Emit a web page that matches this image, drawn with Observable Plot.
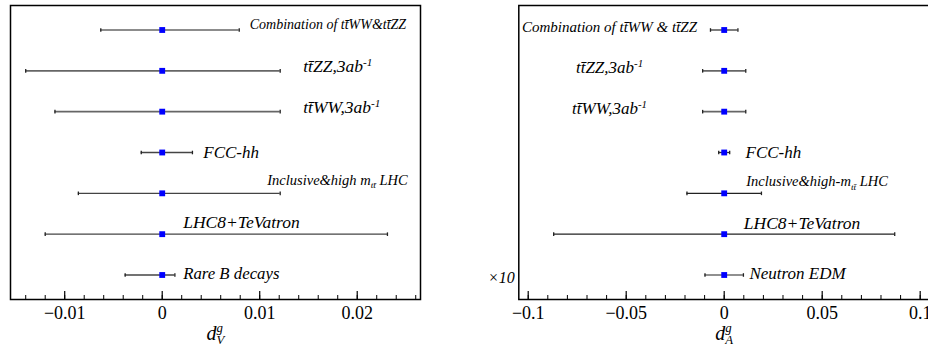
<!DOCTYPE html>
<html><head><meta charset="utf-8">
<script src="https://cdn.jsdelivr.net/npm/d3@7"></script>
<script src="https://cdn.jsdelivr.net/npm/@observablehq/plot@0.6"></script>
<style>
html,body{margin:0;padding:0;background:#fff;overflow:hidden;width:928px;height:351px;}
#wrap{position:relative;width:928px;height:351px;overflow:hidden;}
#left,#right{position:absolute;top:0;}
#left{left:0;width:440px;} #right{left:470px;width:470px;}
#wrap svg{max-width:none !important;}
svg, svg text, svg tspan{font-family:"Liberation Serif","DejaVu Serif",Tinos,Times,serif !important;}
</style></head><body><div id="wrap"><div id="left"></div><div id="right"></div></div>
<script>
// ---------- data ----------
const TB = "t\u0304"; // t with bar
const leftLabels = [
  "Combination of t" + TB + "WW&t" + TB + "ZZ",
  "t" + TB + "ZZ,3ab^{-1}",
  "t" + TB + "WW,3ab^{-1}",
  "FCC-hh",
  "Inclusive&high m_{t" + TB + "} LHC",
  "LHC8+TeVatron",
  "Rare B decays"
];
const leftCentral = [0, 0, 0, 0, 0, 0, 0];
const leftLow  = [-0.0063, -0.0140, -0.0110, -0.00215, -0.0086, -0.0120, -0.0038];
const leftHigh = [ 0.0079,  0.0121,  0.0121,  0.0031,   0.0121,  0.0231,  0.0013];
const leftMajorTicks = [-0.01, 0, 0.01, 0.02];
const leftAxisLabel = "d^{g}_{V}";

const rightLabels = [
  "Combination of t" + TB + "WW & t" + TB + "ZZ",
  "t" + TB + "ZZ,3ab^{-1}",
  "t" + TB + "WW,3ab^{-1}",
  "FCC-hh",
  "Inclusive&high-m_{t" + TB + "} LHC",
  "LHC8+TeVatron",
  "Neutron EDM"
];
const rightCentral = [0, 0, 0, 0, 0, 0, 0];
const rightLow  = [-0.007, -0.011, -0.011, -0.0028, -0.019, -0.087, -0.0098];
const rightHigh = [ 0.007,  0.011,  0.011,  0.0028,  0.019,  0.087,  0.0098];
const rightMajorTicks = [-0.1, -0.05, 0, 0.05, 0.1];
const rightAxisLabel = "d^{g}_{A}";
const rightNote = "×10";

// ---------- layout (annotation placement) ----------
const leftLabelX = [0.00898, 0.01446, 0.01446, 0.00421, 0.01077, 0.00215, 0.00215];
const leftLabelDy = [-5, -4, -4, 0, -13, -12, -1];
const leftLabelSize = [14, 17.5, 17.5, 17, 14.5, 17.5, 16.8];
const leftLabelAnchor = ["start","start","start","start","start","start","start"];

const rightLabelX = [-0.0585, -0.0585, -0.0585, 0.01087, 0.01122, 0.0100, 0.0129];
const rightLabelDy = [-3, -3, -3, 0, -11.5, -11, -1.5];
const rightLabelSize = [15, 17, 17, 17, 14.5, 17.5, 17];
const rightLabelAnchor = ["middle","middle","middle","start","start","start","start"];

const capSymbol = {draw(ctx, size) { const h = Math.sqrt(size / Math.PI); ctx.moveTo(0, -h); ctx.lineTo(0, h); }};
const FONT = "'Liberation Serif','DejaVu Serif',serif";
const fmt = d => d === 0 ? "0" : (d < 0 ? "\u2212" : "") + String(Math.abs(d));

function panel({labels, central, low, high, majors, minorStep, domain, axisLabel,
                labelX, labelDy, labelSize, labelAnchor, width, marginLeft, marginRight,
                barColor, barWidth, vColor, note}) {
  const idx = d3.range(labels.length);
  const minors = d3.range(Math.ceil(domain[0] / minorStep), Math.floor(domain[1] / minorStep) + 1)
    .map(k => +(k * minorStep).toFixed(6));
  const marks = [
    Plot.frame({stroke: "black", strokeWidth: 1.5}),
    Plot.axisX({ticks: minors, tickSize: -4, fill: "none", label: null, stroke: "black", strokeWidth: 1}),
    Plot.axisX({ticks: majors, tickSize: -8, fill: "none", label: null, stroke: "black", strokeWidth: 1.2}),
    Plot.axisX({ticks: majors, tickSize: 0, tickPadding: 7, fontSize: 18, label: null, fill: "black", tickFormat: fmt}),
    Plot.ruleX([central[0]], {x: d => d, y1: () => labels[0], stroke: vColor, strokeWidth: 1.6}),
    Plot.ruleY(idx, {y: i => labels[i], x1: i => low[i], x2: i => high[i], stroke: i => barColor[i], strokeWidth: i => barWidth[i]}),
    Plot.dot(idx, {x: i => low[i], y: i => labels[i], symbol: capSymbol, r: 1.8, stroke: "#222", strokeWidth: 1.3, fill: "none"}),
    Plot.dot(idx, {x: i => high[i], y: i => labels[i], symbol: capSymbol, r: 1.8, stroke: "#222", strokeWidth: 1.3, fill: "none"}),
    Plot.dot(idx, {x: i => central[i], y: i => labels[i], symbol: "square", r: 3.3, fill: "#0000ff", stroke: "none"}),
    ...idx.map(i => Plot.text([i], {x: () => labelX[i], y: () => labels[i], text: () => labels[i],
        textAnchor: labelAnchor[i], dy: labelDy[i], fontSize: labelSize[i], fontStyle: "italic", fill: "black", fontFamily: FONT})),
    Plot.text([axisLabel], {frameAnchor: "bottom", text: d => d, dy: 40, fontSize: 20, fontStyle: "italic", fill: "black", fontFamily: FONT})
  ];
  if (note) marks.push(Plot.text([note], {frameAnchor: "left", y: () => labels[labels.length - 1], text: d => d,
      textAnchor: "end", dx: -4, dy: 3, fontSize: 16, fontStyle: "italic", fill: "black", fontFamily: FONT}));
  return Plot.plot({
    width, height: 351, marginLeft, marginRight, marginTop: 5, marginBottom: 52,
    x: {domain},
    y: {type: "point", domain: labels, padding: 0.6, round: false, axis: null},
    style: {fontFamily: FONT, background: "white", color: "black", overflow: "visible", maxWidth: "none"},
    marks
  });
}

document.getElementById("left").appendChild(panel({
  labels: leftLabels, central: leftCentral, low: leftLow, high: leftHigh,
  majors: leftMajorTicks, minorStep: 0.002, domain: [-0.01556, 0.02649], axisLabel: leftAxisLabel,
  labelX: leftLabelX, labelDy: leftLabelDy, labelSize: leftLabelSize, labelAnchor: leftLabelAnchor,
  width: 440, marginLeft: 10, marginRight: 20,
  barColor: ["#666","#666","#666","#444","#444","#444","#444"], barWidth: [1.7,1.7,1.7,1.5,1.4,1.4,1.4], vColor: "#666"
}));
document.getElementById("right").appendChild(panel({
  labels: rightLabels, central: rightCentral, low: rightLow, high: rightHigh,
  majors: rightMajorTicks, minorStep: 0.01, domain: [-0.1048, 0.1048], axisLabel: rightAxisLabel,
  labelX: rightLabelX, labelDy: rightLabelDy, labelSize: rightLabelSize, labelAnchor: rightLabelAnchor,
  width: 470, marginLeft: 48.3, marginRight: 10.9,
  barColor: ["#666","#666","#666","#333","#222","#222","#222"], barWidth: [1.7,1.7,1.7,1.3,1.2,1.2,1.2], vColor: "#111",
  note: rightNote
}));

// rich text: ^{sup} and _{sub}
const NS = "http://www.w3.org/2000/svg";
document.querySelectorAll("svg text").forEach(el => {
  const s = el.textContent;
  if (!/[\^_]\{/.test(s)) return;
  const fs = parseFloat(getComputedStyle(el).fontSize);
  el.textContent = "";
  const parts = s.split(/(\^\{[^}]*\}|_\{[^}]*\})/).filter(p => p);
  let shift = 0, prev = null, prevSup = false;
  for (const p of parts) {
    const t = document.createElementNS(NS, "tspan");
    let target = 0, txt = p, isSup = false, isSub = false;
    if (p.startsWith("^{")) { isSup = true; target = -0.36 * fs; txt = p.slice(2, -1); t.setAttribute("font-size", 0.64 * fs); }
    else if (p.startsWith("_{")) { isSub = true; target = 0.24 * fs; txt = p.slice(2, -1); t.setAttribute("font-size", 0.64 * fs); }
    t.setAttribute("dy", target - shift);
    shift = target;
    t.textContent = txt;
    el.appendChild(t);
    if (isSub && prevSup && prev) t.setAttribute("dx", -prev.getComputedTextLength());
    prev = t; prevSup = isSup;
  }
});
</script>
</body></html>
